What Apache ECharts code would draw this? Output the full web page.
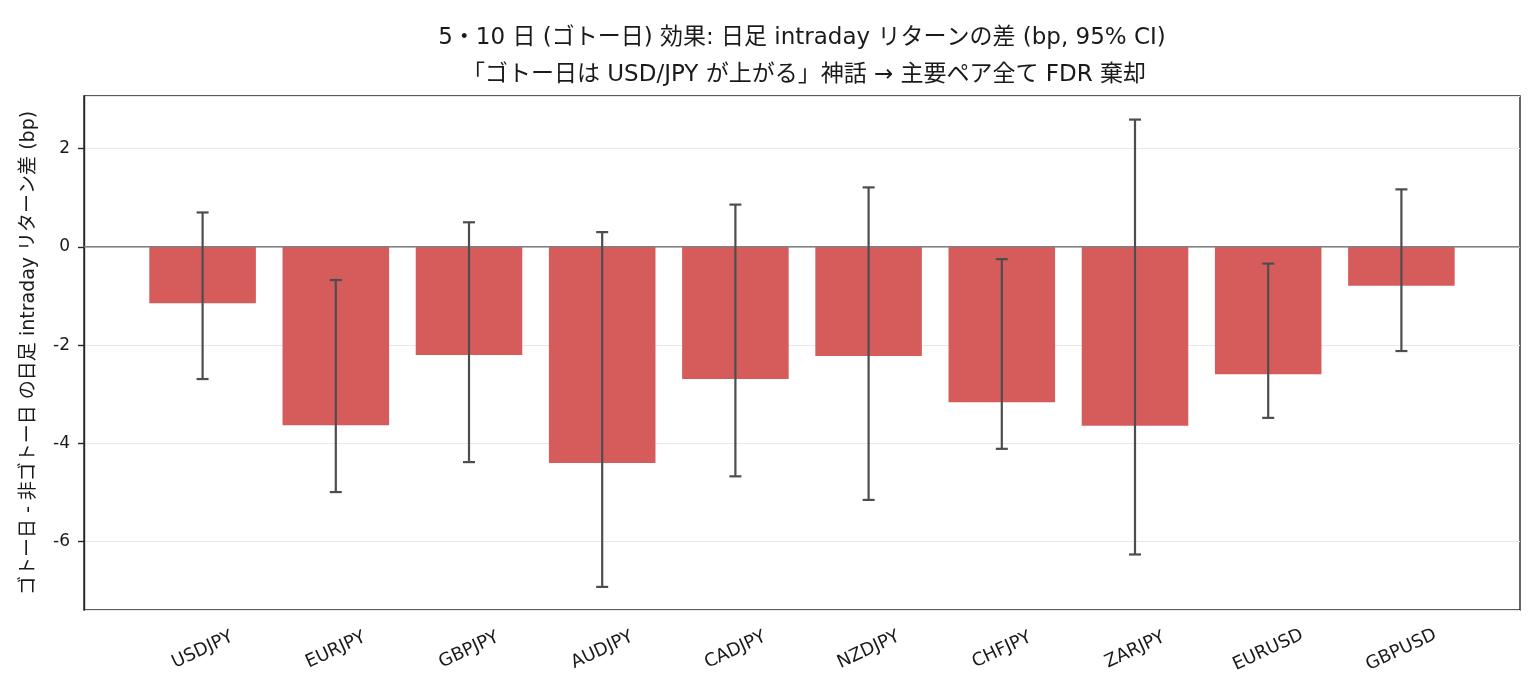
<!DOCTYPE html>
<html>
<head>
<meta charset="utf-8">
<script src="https://cdn.jsdelivr.net/npm/echarts@6/dist/echarts.min.js"></script>
<style>
html,body{margin:0;padding:0;background:#fff;}
#main{width:1540px;height:700px;}
</style>
</head>
<body>
<div id="main"></div>
<script>
const categories = ['USDJPY','EURJPY','GBPJPY','AUDJPY','CADJPY','NZDJPY','CHFJPY','ZARJPY','EURUSD','GBPUSD'];
const diffValues = [-1.15,-3.63,-2.20,-4.40,-2.69,-2.22,-3.16,-3.64,-2.59,-0.79];
const ciLow = [-2.69,-4.99,-4.38,-6.92,-4.67,-5.15,-4.11,-6.26,-3.48,-2.12];
const ciHigh = [0.70,-0.675,0.50,0.30,0.86,1.21,-0.25,2.59,-0.34,1.17];
const titleLine1 = '5・10 日 (ゴトー日) 効果: 日足 intraday リターンの差 (bp, 95% CI)';
const titleLine2 = '「ゴトー日は USD/JPY が上がる」神話 → 主要ペア全て FDR 棄却';
const yAxisTitle = 'ゴトー日 - 非ゴトー日 の日足 intraday リターン差 (bp)';

const FONT = '"DejaVu Sans", "Noto Sans CJK JP", sans-serif';
const Y_MIN = -7.39, Y_MAX = 3.07;

const chart = echarts.init(document.getElementById('main'));
const errData = categories.map((c, i) => [i, ciLow[i], ciHigh[i]]);

chart.setOption({
  animation: false,
  backgroundColor: '#fff',
  graphic: [
    {type: 'text', x: 802, y: 38, style: {text: titleLine1, fontFamily: FONT, fontSize: 23, fill: '#1a1a1a', align: 'center', verticalAlign: 'middle'}},
    {type: 'text', x: 804, y: 75, style: {text: titleLine2, fontFamily: FONT, fontSize: 23, fill: '#1a1a1a', align: 'center', verticalAlign: 'middle'}}
  ],
  grid: [
    {left: 84, right: 20, top: 96, bottom: 90, show: true, borderColor: '#262626', borderWidth: 1.4, backgroundColor: 'transparent'},
    {left: 136, right: 72, top: 96, bottom: 90}
  ],
  xAxis: [
    {type: 'value', gridIndex: 0, min: 0, max: 1, show: false},
    {type: 'category', gridIndex: 1, data: categories,
     axisLine: {show: false},
     axisTick: {show: true, alignWithLabel: true, length: 6, lineStyle: {color: '#262626', width: 1.4}},
     axisLabel: {rotate: 25, fontFamily: FONT, fontSize: 18, color: '#1a1a1a', margin: 40, align: 'center', verticalAlign: 'middle'}}
  ],
  yAxis: [
    {type: 'value', gridIndex: 0, min: Y_MIN, max: Y_MAX, splitNumber: 5,
     name: yAxisTitle, nameLocation: 'middle', nameGap: 45, nameRotate: 90,
     nameTextStyle: {fontFamily: FONT, fontSize: 19, color: '#1a1a1a'},
     axisLine: {show: true, lineStyle: {color: '#262626', width: 1.4}},
     axisTick: {show: true, length: 6, lineStyle: {color: '#262626', width: 1.4}},
     axisLabel: {showMinLabel: false, showMaxLabel: false, fontFamily: FONT, fontSize: 17, color: '#1a1a1a', margin: 14,
       formatter: v => (Math.abs(v - Math.round(v)) < 1e-6 ? String(Math.round(v)) : '')},
     splitLine: {show: true, lineStyle: {color: '#e8e8e8', width: 1.2}}},
    {type: 'value', gridIndex: 1, min: Y_MIN, max: Y_MAX, show: false, splitLine: {show: false}}
  ],
  series: [
    {type: 'bar', xAxisIndex: 1, yAxisIndex: 1, data: diffValues, barWidth: '80%',
     itemStyle: {color: '#d65c5c'}, z: 2},
    {type: 'line', xAxisIndex: 0, yAxisIndex: 0, data: [[0, 0], [1, 0]], symbol: 'none',
     lineStyle: {color: '#808080', width: 1.5}, z: 3, silent: true},
    {type: 'custom', xAxisIndex: 1, yAxisIndex: 1, data: errData, z: 4,
     renderItem: function (params, api) {
       const x = api.value(0);
       const lo = api.coord([x, api.value(1)]);
       const hi = api.coord([x, api.value(2)]);
       const cap = 6;
       const style = {stroke: '#4d4d4d', lineWidth: 2.2};
       return {type: 'group', children: [
         {type: 'line', shape: {x1: lo[0], y1: lo[1], x2: hi[0], y2: hi[1]}, style: style},
         {type: 'line', shape: {x1: lo[0] - cap, y1: lo[1], x2: lo[0] + cap, y2: lo[1]}, style: style},
         {type: 'line', shape: {x1: hi[0] - cap, y1: hi[1], x2: hi[0] + cap, y2: hi[1]}, style: style}
       ]};
     }}
  ]
});
</script>
</body>
</html>
